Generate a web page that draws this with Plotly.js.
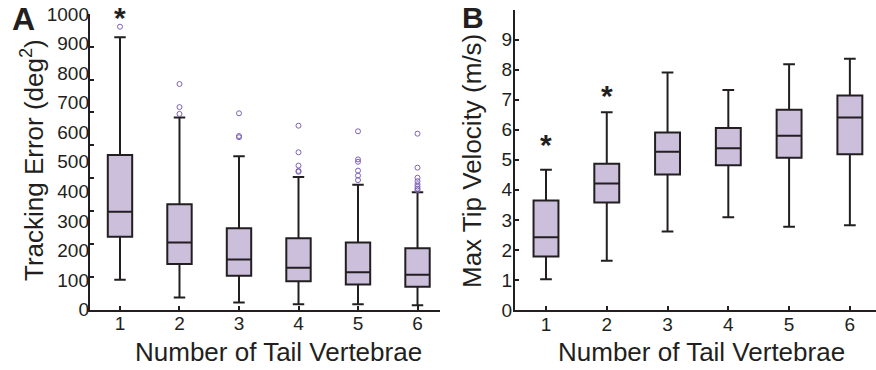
<!DOCTYPE html>
<html>
<head>
<meta charset="utf-8">
<script src="https://cdn.plot.ly/plotly-3.0.1.min.js"></script>
<style>html,body{margin:0;padding:0;background:#fff;}#chart{width:876px;height:370px;}</style>
</head>
<body>
<div id="chart"></div>
<script>
// ---------- data ----------
const categories = [1, 2, 3, 4, 5, 6];

// Panel A: Tracking Error (deg^2)
const errQ1     = [246, 154, 114, 96, 85, 77];
const errMedian = [331, 227, 169, 141, 126, 118];
const errQ3     = [523, 356, 275, 241, 227, 207];
const errLower  = [101, 41, 24, 18, 18, 14];
const errUpper  = [921, 650, 519, 448, 422, 397];
const errOutlierX = [1, 2, 2, 2, 3, 3, 3, 4, 4, 4, 4, 4, 5, 5, 5, 5, 5, 5, 6, 6, 6, 6, 6, 6, 6, 6];
const errOutlierY = [957, 763, 685, 662, 664, 587, 583, 622, 532, 487, 469, 466, 603, 508, 500, 470, 453, 438, 595, 480, 446, 434, 424, 416, 409, 404];
const errTickLabels = [0, 100, 200, 300, 400, 500, 600, 700, 800, 900, 1000];
const errTickMarks = [0, 111.1, 222.2, 333.3, 444.4, 555.6, 666.7, 777.8, 888.9, 1000];

// Panel B: Max Tip Velocity (m/s)
const velQ1     = [1.78, 3.58, 4.51, 4.82, 5.07, 5.18];
const velMedian = [2.42, 4.21, 5.27, 5.38, 5.80, 6.41];
const velQ3     = [3.64, 4.87, 5.91, 6.06, 6.66, 7.14];
const velLower  = [1.02, 1.64, 2.61, 3.09, 2.77, 2.82];
const velUpper  = [4.67, 6.58, 7.90, 7.32, 8.18, 8.36];
const velTickLabels = [0, 1, 2, 3, 4, 5, 6, 7, 8, 9, 10];

// significance markers (categories marked with *)
const sigA = [1];
const sigB = [1, 2];

// ---------- style ----------
const ink = '#231F20';
const fill = '#CBBFDC';
const outlierColor = '#7E62B6';
const font = 'Liberation Sans, Arial, Helvetica, sans-serif';
const tickFont = {family: font, size: 19, color: ink};
const titleFont = {family: font, size: 26, color: ink};

const boxStyle = {
  type: 'box', boxpoints: false, width: 0.41, whiskerwidth: 0.47,
  fillcolor: fill, line: {color: ink, width: 2}, hoverinfo: 'skip', showlegend: false
};

const traces = [
  Object.assign({}, boxStyle, {
    x: categories, q1: errQ1, median: errMedian, q3: errQ3,
    lowerfence: errLower, upperfence: errUpper, xaxis: 'x', yaxis: 'y'
  }),
  {
    type: 'scatter', mode: 'markers', x: errOutlierX, y: errOutlierY,
    xaxis: 'x', yaxis: 'y3', showlegend: false, hoverinfo: 'skip',
    marker: {symbol: 'circle-open', size: 5, color: outlierColor, line: {width: 1, color: outlierColor}}
  },
  Object.assign({}, boxStyle, {
    x: categories, q1: velQ1, median: velMedian, q3: velQ3,
    lowerfence: velLower, upperfence: velUpper, xaxis: 'x2', yaxis: 'y2'
  })
];

const W = 876, H = 370;
const px = v => v / W, py = v => (H - v) / H;

const baseAxis = {
  showline: true, linecolor: ink, linewidth: 2, ticks: 'inside', ticklen: 4, tickwidth: 2,
  tickcolor: ink, showgrid: false, zeroline: false, tickfont: tickFont, fixedrange: true
};

const star = (xref, x, yPix) => ({
  text: '<b>*</b>', xref: xref, yref: 'paper', x: x, y: py(yPix + 3.6),
  xanchor: 'center', yanchor: 'middle', showarrow: false, borderpad: 0,
  font: {family: font, size: 30, color: ink}
});

const layout = {
  width: W, height: H,
  margin: {l: 0, r: 0, t: 0, b: 0},
  paper_bgcolor: '#fff', plot_bgcolor: 'rgba(0,0,0,0)',
  font: {family: font, color: ink},
  showlegend: false,
  xaxis: Object.assign({}, baseAxis, {
    domain: [px(90), px(440)], range: [0.496, 6.378], anchor: 'y',
    tickmode: 'array', tickvals: categories, ticktext: categories.map(String), ticklabelstandoff: -4
  }),
  yaxis: Object.assign({}, baseAxis, {
    domain: [py(309.5), py(14)], range: [0, 1000], anchor: 'x',
    tickmode: 'array', tickvals: errTickMarks, showticklabels: false
  }),
  yaxis3: {
    overlaying: 'y', anchor: 'x', side: 'left', range: [0, 1000],
    showline: false, showgrid: false, zeroline: false, ticks: '',
    tickmode: 'array', tickvals: errTickLabels, ticktext: errTickLabels.map(String),
    tickfont: tickFont, fixedrange: true
  },
  xaxis2: Object.assign({}, baseAxis, {
    domain: [px(515), 1], range: [0.49, 6.43], anchor: 'y2',
    tickmode: 'array', tickvals: categories, ticktext: categories.map(String), ticklabelstandoff: -4
  }),
  yaxis2: Object.assign({}, baseAxis, {
    domain: [py(310), py(9.5)], range: [0, 10], anchor: 'x2',
    tickmode: 'array', tickvals: velTickLabels, ticktext: velTickLabels.map(String), ticklabelstandoff: -3
  }),
  annotations: [
    {text: 'Number of Tail Vertebrae', xref: 'paper', yref: 'paper', x: px(278.5), y: py(352),
     xanchor: 'center', yanchor: 'middle', showarrow: false, font: titleFont},
    {text: 'Number of Tail Vertebrae', xref: 'paper', yref: 'paper', x: px(701.5), y: py(352),
     xanchor: 'center', yanchor: 'middle', showarrow: false, font: titleFont},
    {text: 'Tracking Error (deg<sup>2</sup>)', xref: 'paper', yref: 'paper', x: px(32), y: py(160),
     textangle: -90, xanchor: 'center', yanchor: 'middle', showarrow: false, font: titleFont},
    {text: 'Max Tip Velocity (m/s)', xref: 'paper', yref: 'paper', x: px(472), y: py(161),
     textangle: -90, xanchor: 'center', yanchor: 'middle', showarrow: false, font: titleFont},
    {text: '<b>A</b>', xref: 'paper', yref: 'paper', x: px(23.5), y: 1,
     xanchor: 'center', yanchor: 'top', borderpad: 0, showarrow: false, font: {family: font, size: 32, color: ink}},
    {text: '<b>B</b>', xref: 'paper', yref: 'paper', x: px(472.5), y: 1,
     xanchor: 'center', yanchor: 'top', borderpad: 0, showarrow: false, font: {family: font, size: 30, color: ink}},
    star('x', sigA[0], 13.5),
    star('x2', sigB[0], 140.5),
    star('x2', sigB[1], 91.7)
  ]
};

Plotly.newPlot('chart', traces, layout, {staticPlot: true, displayModeBar: false});
</script>
</body>
</html>
